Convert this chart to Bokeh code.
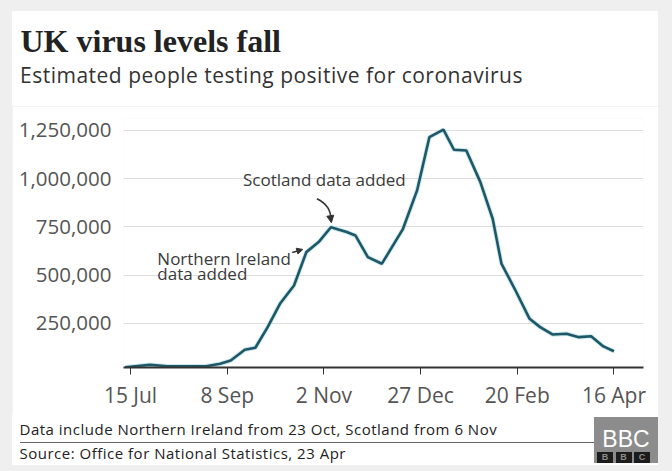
import pandas as pd
from bokeh.plotting import figure
from bokeh.models import (Range1d, FixedTicker, Label, Arrow, NormalHead,
                          NumeralTickFormatter, Div)
from bokeh.layouts import column
from bokeh.embed import file_html
from bokeh.resources import INLINE

# ---- data ----
dates = ["2020-07-12", "2020-07-26", "2020-08-05", "2020-08-27", "2020-09-04",
         "2020-09-10", "2020-09-18", "2020-09-24", "2020-10-01", "2020-10-08",
         "2020-10-16", "2020-10-23", "2020-10-30", "2020-11-06", "2020-11-15",
         "2020-11-20", "2020-11-27", "2020-12-05", "2020-12-17", "2020-12-25",
         "2021-01-01", "2021-01-09", "2021-01-15", "2021-01-22", "2021-01-30",
         "2021-02-06", "2021-02-11", "2021-02-19", "2021-02-27", "2021-03-05",
         "2021-03-12", "2021-03-20", "2021-03-27", "2021-04-03", "2021-04-10",
         "2021-04-16"]
values = [22000, 35000, 27000, 27000, 40000, 57000, 113000, 123000, 230000, 351000,
          446000, 619000, 671000, 748000, 723000, 705000, 593000, 559000, 740000, 939000,
          1215000, 1254000, 1150000, 1146000, 982000, 792000, 559000, 420000, 273000, 230000,
          192000, 196000, 178000, 183000, 130000, 105000]
x_tick_dates = ["2020-07-15", "2020-09-08", "2020-11-02", "2020-12-27", "2021-02-20", "2021-04-16"]
x_tick_labels = ["15 Jul", "8 Sep", "2 Nov", "27 Dec", "20 Feb", "16 Apr"]
y_ticks = [250000, 500000, 750000, 1000000, 1250000]

title = "UK virus levels fall"
subtitle = "Estimated people testing positive for coronavirus"
note = "Data include Northern Ireland from 23 Oct, Scotland from 6 Nov"
source = "Source: Office for National Statistics, 23 Apr"

SANS = "Open Sans"
W = 646
HEAD_H, MAIN_H, FOOT_H = 95, 309, 50


def txt(s, left, top, font, size, color, weight="normal", spacing=0, extra=""):
    return (f'<div style="position:absolute;left:{left}px;top:{top}px;white-space:nowrap;'
            f'font-family:\'{font}\';font-size:{size}px;line-height:{size}px;'
            f'font-weight:{weight};color:{color};letter-spacing:{spacing}px;{extra}">{s}</div>')


# ---- header ----
head_html = ('<div style="position:relative;width:646px;height:95px;background:white;margin:0;padding:0;">'
             + txt(title, 8.5, 13.5, "Liberation Serif", 32, "#222222", weight="bold")
             + txt(subtitle, 8, 54.2, SANS, 21, "#333333", spacing=0.5)
             + '</div>')
head = Div(text=head_html, width=W, height=HEAD_H, margin=(0, 0, 0, 0),
           styles={"background-color": "white"})

# ---- main chart ----
xd = pd.to_datetime(dates)
x_start = pd.Timestamp("2020-07-15") - pd.Timedelta(days=4)
x_end = x_start + pd.Timedelta(days=295.8)

p = figure(width=W, height=MAIN_H, x_axis_type="datetime",
           x_range=Range1d(x_start, x_end), y_range=Range1d(20700, 1312000),
           output_backend="svg", toolbar_location=None, margin=(0, 0, 0, 0),
           min_border_left=111, min_border_right=15, min_border_top=12, min_border_bottom=48)
p.outline_line_color = None
p.background_fill_color = "white"
p.border_fill_color = "white"

p.yaxis.ticker = FixedTicker(ticks=y_ticks)
p.yaxis.formatter = NumeralTickFormatter(format="0,0")
p.yaxis.axis_line_color = None
p.yaxis.major_tick_line_color = None
p.yaxis.minor_tick_line_color = None
p.yaxis.major_label_text_font = SANS
p.yaxis.major_label_text_font_size = "20.5px"
p.yaxis.major_label_text_color = "#555555"
p.yaxis.major_label_standoff = 6
p.ygrid.grid_line_color = "#dddddd"
p.ygrid.grid_line_width = 1
p.xgrid.grid_line_color = None

tick_ms = [int(pd.Timestamp(d).value // 10**6) for d in x_tick_dates]
p.xaxis.ticker = FixedTicker(ticks=tick_ms)
p.xaxis.major_label_overrides = {t: l for t, l in zip(tick_ms, x_tick_labels)}
p.xaxis.axis_line_color = "#333333"
p.xaxis.axis_line_width = 2
p.xaxis.major_tick_line_color = "#333333"
p.xaxis.major_tick_in = 0
p.xaxis.major_tick_out = 7
p.xaxis.minor_tick_line_color = None
p.xaxis.major_label_text_font = SANS
p.xaxis.major_label_text_font_size = "21px"
p.xaxis.major_label_text_color = "#555555"
p.xaxis.major_label_standoff = 6

p.line(xd, values, line_color="#a6dbe3", line_width=4.5, line_alpha=0.6)
p.line(xd, values, line_color="#1f5766", line_width=2.6)

ann_color = "#3a3a3a"
p.add_layout(Label(x=pd.Timestamp("2020-09-17"), y=994000, text="Scotland data added",
                   text_font=SANS, text_font_size="17px", text_color=ann_color,
                   text_baseline="alphabetic"))
p.add_layout(Label(x=pd.Timestamp("2020-07-30 06:00"), y=586000, text="Northern Ireland",
                   text_font=SANS, text_font_size="17px", text_color=ann_color,
                   text_baseline="alphabetic"))
p.add_layout(Label(x=pd.Timestamp("2020-07-30 06:00"), y=508000, text="data added",
                   text_font=SANS, text_font_size="17px", text_color=ann_color,
                   text_baseline="alphabetic"))
p.bezier(x0=[pd.Timestamp("2020-10-29")], y0=[896000],
         x1=[pd.Timestamp("2020-11-06")], y1=[790000],
         cx0=[pd.Timestamp("2020-11-04")], cy0=[870000],
         cx1=[pd.Timestamp("2020-11-06")], cy1=[830000],
         line_color="#333333", line_width=1.5)
p.add_layout(Arrow(end=NormalHead(size=7, fill_color="#333333", line_color="#333333"),
                   x_start=pd.Timestamp("2020-11-05 18:00"), y_start=800000,
                   x_end=pd.Timestamp("2020-11-06 06:00"), y_end=772000,
                   line_color="#333333", line_width=1.5))
p.add_layout(Arrow(end=NormalHead(size=6, fill_color="#333333", line_color="#333333"),
                   x_start=pd.Timestamp("2020-10-15"), y_start=617000,
                   x_end=pd.Timestamp("2020-10-21"), y_end=633000,
                   line_color="#333333", line_width=1.5))

# ---- footer ----
box = ('<div style="position:absolute;left:{l}px;top:34.5px;width:16px;height:11.5px;background:#1c1c1c;'
       'color:#8c8c8c;font-family:\'Liberation Sans\';font-weight:bold;font-size:9px;'
       'line-height:11.5px;text-align:center;">{c}</div>')
logo = ('<div style="position:absolute;left:582px;top:2px;width:64px;height:46px;background:#8c8c8c;">'
        '<div style="position:absolute;left:0;top:10.8px;width:64px;text-align:center;'
        'font-family:\'Liberation Sans\';font-size:23px;line-height:23px;color:white;">BBC</div>'
        + box.format(l=3, c="B") + box.format(l=21.5, c="B") + box.format(l=40, c="C")
        + '</div>')
foot_html = ('<div style="position:relative;width:646px;height:50px;background:white;margin:0;padding:0;">'
             + txt(note, 7.5, 6.7, SANS, 15, "#222222", spacing=0.5)
             + '<div style="position:absolute;left:8px;top:26.8px;width:574px;height:1px;background:#666666;"></div>'
             + txt(source, 7.5, 30.7, SANS, 15, "#222222", spacing=0.5)
             + logo
             + '</div>')
foot = Div(text=foot_html, width=W, height=FOOT_H, margin=(0, 0, 0, 0),
           styles={"background-color": "white"})

layout = column(head, p, foot, spacing=0,
                styles={"background-color": "#efefef", "padding": "11px 14px 6px 12px"})

open("out.html", "w").write(file_html(layout, INLINE))
